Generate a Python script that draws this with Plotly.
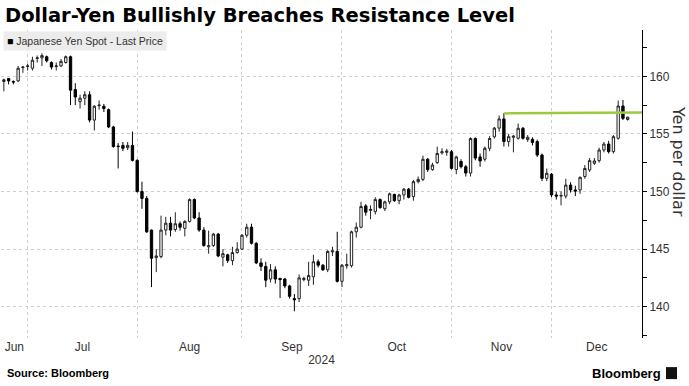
import pandas as pd
import plotly.graph_objects as go

# ---------------- data ----------------
dates = pd.bdate_range("2024-06-24", periods=132)

opens = [159.55, 159.8, 159.55, 159.6, 160.75, 160.85, 160.7, 161.55, 161.6, 161.7,
         161.2, 160.85, 160.9, 161.2, 161.7, 158.85, 157.8, 158.1, 158.4, 156.2,
         157.45, 157.4, 157.1, 155.6, 153.95, 154.0, 153.8, 154.0, 152.7, 150.0,
         149.4, 146.65, 144.25, 144.35, 146.65, 147.25, 146.7, 147.2, 146.8, 147.4,
         149.3, 147.7, 146.65, 145.2, 145.3, 146.3, 144.3, 144.5, 144.0, 144.7,
         145.0, 146.2, 146.9, 145.5, 143.8, 143.5, 142.4, 143.2, 142.45, 142.4,
         141.8, 140.7, 140.7, 142.35, 142.3, 142.6, 143.9, 143.6, 143.2, 144.75,
         144.8, 142.2, 143.55, 143.55, 146.5, 146.9, 148.75, 148.35, 148.25, 149.3,
         148.5, 149.1, 149.75, 149.2, 149.7, 150.2, 149.55, 150.85, 151.05, 152.8,
         151.9, 152.5, 153.35, 153.4, 153.45, 151.9, 152.6, 152.15, 151.6, 154.6,
         153.0, 152.8, 153.75, 154.75, 155.5, 156.3, 154.33, 154.7, 154.62, 155.49,
         154.5, 154.53, 154.33, 153.17, 151.14, 151.5, 149.7, 149.6, 149.6, 150.56,
         150.13, 150.13, 151.3, 151.87, 152.45, 152.68, 153.6, 154.12, 153.46, 154.62,
         157.42, 156.25]
highs = [159.8, 159.85, 159.65, 160.9, 160.9, 161.1, 161.7, 161.8, 162.0, 161.8,
         161.3, 161.2, 161.5, 161.8, 161.8, 159.4, 158.4, 158.7, 158.7, 157.5,
         157.9, 157.6, 157.2, 155.7, 154.2, 154.3, 154.3, 155.2, 152.8, 150.85,
         149.6, 146.7, 145.0, 147.9, 147.8, 147.8, 148.2, 147.4, 147.5, 149.4,
         149.4, 148.2, 146.9, 146.6, 146.4, 146.4, 145.0, 144.6, 145.2, 145.6,
         146.3, 147.2, 147.2, 145.6, 144.2, 143.9, 143.7, 143.5, 142.5, 142.5,
         141.9, 141.1, 142.8, 142.6, 143.9, 144.5, 144.1, 143.7, 144.9, 145.2,
         146.5, 143.7, 144.6, 146.6, 147.3, 149.1, 148.9, 148.8, 149.5, 149.4,
         149.2, 149.9, 149.8, 149.8, 150.3, 150.3, 151.0, 151.3, 153.1, 152.9,
         152.5, 153.9, 153.75, 153.7, 153.6, 153.1, 152.8, 152.3, 154.7, 154.7,
         153.3, 153.9, 154.8, 155.6, 156.6, 156.8, 155.0, 154.9, 155.9, 155.6,
         154.9, 154.7, 154.5, 153.3, 152.0, 151.6, 150.0, 150.0, 151.1, 150.8,
         150.5, 151.3, 152.3, 152.9, 152.9, 153.8, 154.3, 154.4, 154.9, 157.9,
         157.94, 156.5]
lows = [158.7, 159.3, 159.3, 159.5, 160.3, 160.5, 160.5, 161.2, 160.9, 161.2,
        160.6, 160.5, 160.8, 161.1, 157.5, 157.5, 157.2, 157.5, 156.0, 155.3,
        157.1, 156.9, 155.5, 153.8, 152.0, 153.5, 153.6, 152.6, 149.9, 148.5,
        146.4, 141.7, 143.0, 144.2, 146.2, 146.1, 146.5, 146.6, 146.1, 147.3,
        147.6, 146.5, 145.2, 144.6, 145.2, 144.3, 143.5, 143.8, 143.6, 144.6,
        144.9, 146.0, 145.4, 143.7, 143.1, 141.7, 142.1, 142.0, 140.75, 141.6,
        140.7, 139.6, 140.4, 142.2, 141.8, 141.9, 143.4, 143.1, 143.0, 144.4,
        142.1, 141.7, 143.3, 143.4, 146.0, 146.8, 147.9, 147.6, 148.0, 148.5,
        148.3, 148.9, 149.1, 148.9, 149.3, 149.4, 149.2, 150.7, 150.9, 151.7,
        151.8, 152.4, 153.2, 153.1, 151.9, 151.5, 152.0, 151.3, 151.3, 152.7,
        152.15, 152.6, 153.5, 154.6, 155.2, 153.9, 153.9, 153.4, 154.5, 154.5,
        154.3, 154.0, 153.0, 150.9, 150.9, 149.5, 149.3, 148.8, 149.4, 149.9,
        149.6, 149.8, 151.1, 151.7, 152.3, 152.5, 153.4, 153.3, 153.3, 154.5,
        156.2, 156.15]
closes = [159.7, 159.6, 159.5, 160.7, 160.8, 160.9, 161.4, 161.6, 161.8, 161.35,
          160.8, 160.9, 161.3, 161.7, 158.8, 158.2, 158.1, 158.4, 156.2, 157.4,
          157.5, 157.2, 155.6, 153.9, 153.9, 153.75, 154.0, 152.7, 150.0, 149.4,
          146.5, 144.2, 144.4, 146.65, 147.25, 146.65, 147.2, 146.9, 147.4, 149.3,
          147.7, 146.65, 145.3, 145.3, 146.3, 144.4, 144.6, 144.0, 144.7, 145.0,
          146.2, 146.9, 145.5, 143.8, 143.5, 142.3, 143.2, 142.4, 142.35, 141.8,
          140.9, 140.6, 142.5, 142.45, 142.7, 143.9, 143.6, 143.2, 144.8, 144.85,
          142.2, 143.6, 143.65, 146.5, 146.9, 148.7, 148.2, 148.45, 149.3, 148.6,
          149.1, 149.8, 149.2, 149.7, 150.2, 149.5, 150.85, 151.05, 152.8, 151.9,
          152.3, 153.3, 153.45, 153.5, 152.0, 153.0, 152.15, 151.6, 154.6, 152.9,
          152.65, 153.75, 154.6, 155.5, 156.3, 154.33, 154.76, 154.8, 155.49, 154.62,
          154.7, 154.25, 153.17, 151.14, 151.58, 149.7, 149.6, 149.65, 150.56, 150.13,
          150.04, 151.23, 152.0, 152.68, 152.65, 153.6, 154.12, 153.46, 154.76, 157.42,
          156.35, 156.45]

resistance_dates = ["2024-11-18", "2024-12-31"]
resistance_values = [156.78, 156.86]

y_ticks = [140, 145, 150, 155, 160]
series_name = "Japanese Yen Spot - Last Price"
y_title = "Yen per dollar"
year_label = "2024"

# ---------------- positions (trading-day index) ----------------
pos = list(range(len(dates)))
x_min, x_max = -0.6, 134.0

month_starts = [i for i in range(1, len(dates)) if dates[i].month != dates[i - 1].month]
bounds = [x_min] + month_starts + [x_max]
month_names = [dates[0].strftime("%b")] + [dates[i].strftime("%b") for i in month_starts]
month_mid = [(bounds[k] + bounds[k + 1]) / 2 for k in range(len(bounds) - 1)]


def to_pos(d):
    d = pd.Timestamp(d)
    if d > dates[-1]:
        return x_max
    return int(dates.get_indexer([d], method="bfill")[0])


res_x = [to_pos(d) for d in resistance_dates]

FONT = "Liberation Sans"

fig = go.Figure()
fig.add_trace(go.Candlestick(
    x=pos, open=opens, high=highs, low=lows, close=closes,
    increasing=dict(line=dict(color="#222222", width=1), fillcolor="white"),
    decreasing=dict(line=dict(color="#000000", width=1), fillcolor="#000000"),
    whiskerwidth=0, showlegend=False, name=series_name,
))
fig.add_trace(go.Scatter(
    x=res_x, y=resistance_values, mode="lines",
    line=dict(color="#9BCB3C", width=2.5), showlegend=False, hoverinfo="skip",
))

fig.update_layout(
    width=689, height=386,
    margin=dict(l=1, r=47, t=30, b=48),
    paper_bgcolor="white", plot_bgcolor="white",
    font=dict(family=FONT, color="#333333", size=12),
    title=dict(
        text="<b>Dollar-Yen Bullishly Breaches Resistance Level</b>",
        x=5 / 689, xanchor="left", xref="container",
        y=1 - 15 / 386, yanchor="middle", yref="container",
        font=dict(family="DejaVu Sans", size=19.5, color="#000000"),
    ),
    xaxis=dict(
        range=[x_min, x_max], rangeslider=dict(visible=False),
        tickmode="array", tickvals=month_mid, ticktext=month_names,
        showgrid=False, zeroline=False, showline=False, ticks="",
        tickfont=dict(size=12, color="#333333"),
        minor=dict(tickmode="array", tickvals=month_starts, showgrid=True,
                   gridcolor="#cfcfcf", griddash="dot", gridwidth=1, ticks=""),
        title=dict(text=year_label, font=dict(size=12, color="#333333"), standoff=2),
    ),
    yaxis=dict(
        side="right", range=[137.28, 164.02],
        tickmode="array", tickvals=y_ticks,
        showgrid=True, gridcolor="#cfcfcf", griddash="dot", gridwidth=1,
        zeroline=False, showline=True, linecolor="#000000", linewidth=1,
        ticks="outside", ticklen=4, tickcolor="#000000",
        tickfont=dict(size=12, color="#333333"),
        minor=dict(dtick=2.5, tick0=0, ticks="outside", ticklen=4,
                   tickcolor="#000000", showgrid=False),
    ),
    annotations=[
        dict(text="<span style='color:#000'>■</span> " + series_name,
             xref="paper", yref="paper", x=0, y=1, xanchor="left", yanchor="top",
             xshift=2, yshift=-1, showarrow=False, bgcolor="#ececec",
             borderpad=3, font=dict(size=10.5, color="#333333")),
        dict(text=y_title, xref="paper", yref="paper", x=1, y=0.575,
             xanchor="center", yanchor="middle", xshift=36, textangle=90,
             showarrow=False, font=dict(family="DejaVu Sans", size=16, color="#333333")),
        dict(text="<b>Source: Bloomberg</b>", xref="paper", yref="paper",
             x=0, y=-0.114, xanchor="left", yanchor="middle", xshift=4,
             showarrow=False, font=dict(size=11, color="#000000")),
        dict(text="<b>Bloomberg</b>", xref="paper", yref="paper",
             x=1, y=-0.114, xanchor="right", yanchor="middle", xshift=21,
             showarrow=False, font=dict(size=13, color="#000000")),
    ],
    shapes=[
        dict(type="rect", xref="paper", yref="paper",
             x0=1 + 24 / 641, x1=1 + 35 / 641, y0=-0.114 - 6 / 308, y1=-0.114 + 6 / 308,
             fillcolor="#111111", line=dict(width=0)),
    ],
)

fig.write_html(
    "out.html",
    config={"displayModeBar": False},
    post_script="document.body.style.margin='0';document.documentElement.style.margin='0';"
                "document.body.style.overflow='hidden';",
)
